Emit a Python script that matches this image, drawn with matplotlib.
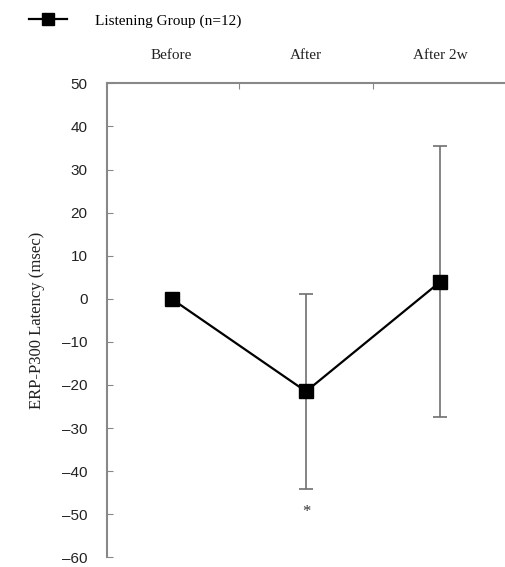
import numpy as np
import matplotlib.pyplot as plt
from matplotlib.lines import Line2D

groups = ['Before', 'After', 'After 2w']
latency = [0.0, -21.5, 4.0]
err_up = [0.0, 22.7, 31.5]
err_down = [0.0, 22.7, 31.5]
yticks = list(range(-60, 51, 10))

fig = plt.figure(figsize=(5.05, 5.67), dpi=100)
ax = fig.add_axes([0.212, 0.017, 0.788, 0.836])

x = np.arange(len(groups))
ax.errorbar(x, latency, yerr=[err_down, err_up], fmt='none',
            ecolor='#707070', elinewidth=1.2, capsize=5, capthick=1.2, zorder=1)
ax.plot(x, latency, color='black', lw=1.6, marker='s', ms=10,
        mfc='black', mec='black', zorder=3)
ax.text(1, -49.5, '*', ha='center', va='center', fontsize=12,
        family='Liberation Serif', color='#333333')

ax.set_xlim(-0.48, 2.48)
ax.set_ylim(-60, 50)
ax.set_yticks(yticks)
ax.set_yticklabels([('\u2013' + str(-v)) if v < 0 else str(v) for v in yticks],
                   family='Liberation Sans', fontsize=11, color='#222222')
ax.tick_params(axis='y', direction='in', length=4, color='#888888', pad=14)

ax.xaxis.tick_top()
ax.set_xticks([0.5, 1.5])
ax.set_xticklabels([])
ax.tick_params(axis='x', direction='in', length=4, color='#888888')
for xi, g in zip(x, groups):
    ax.text(xi, 56.5, g, ha='center', va='center', fontsize=11,
            family='Liberation Serif', color='#222222')

for s in ['right', 'bottom']:
    ax.spines[s].set_visible(False)
for s in ['left', 'top']:
    ax.spines[s].set_color('#888888')
    ax.spines[s].set_linewidth(1.5)

ax.set_ylabel('ERP-P300 Latency (msec)', family='Liberation Serif',
              fontsize=12, color='#222222', labelpad=12)

handle = Line2D([], [], color='black', lw=1.6, marker='s', ms=9)
fig.legend(handles=[handle], labels=['Listening Group (n=12)'],
           loc='upper left', bbox_to_anchor=(0.03, 1.0), frameon=False,
           prop={'family': 'Liberation Serif', 'size': 11},
           handlelength=2.5, handletextpad=1.8)

fig.savefig('out.png', dpi=100)
